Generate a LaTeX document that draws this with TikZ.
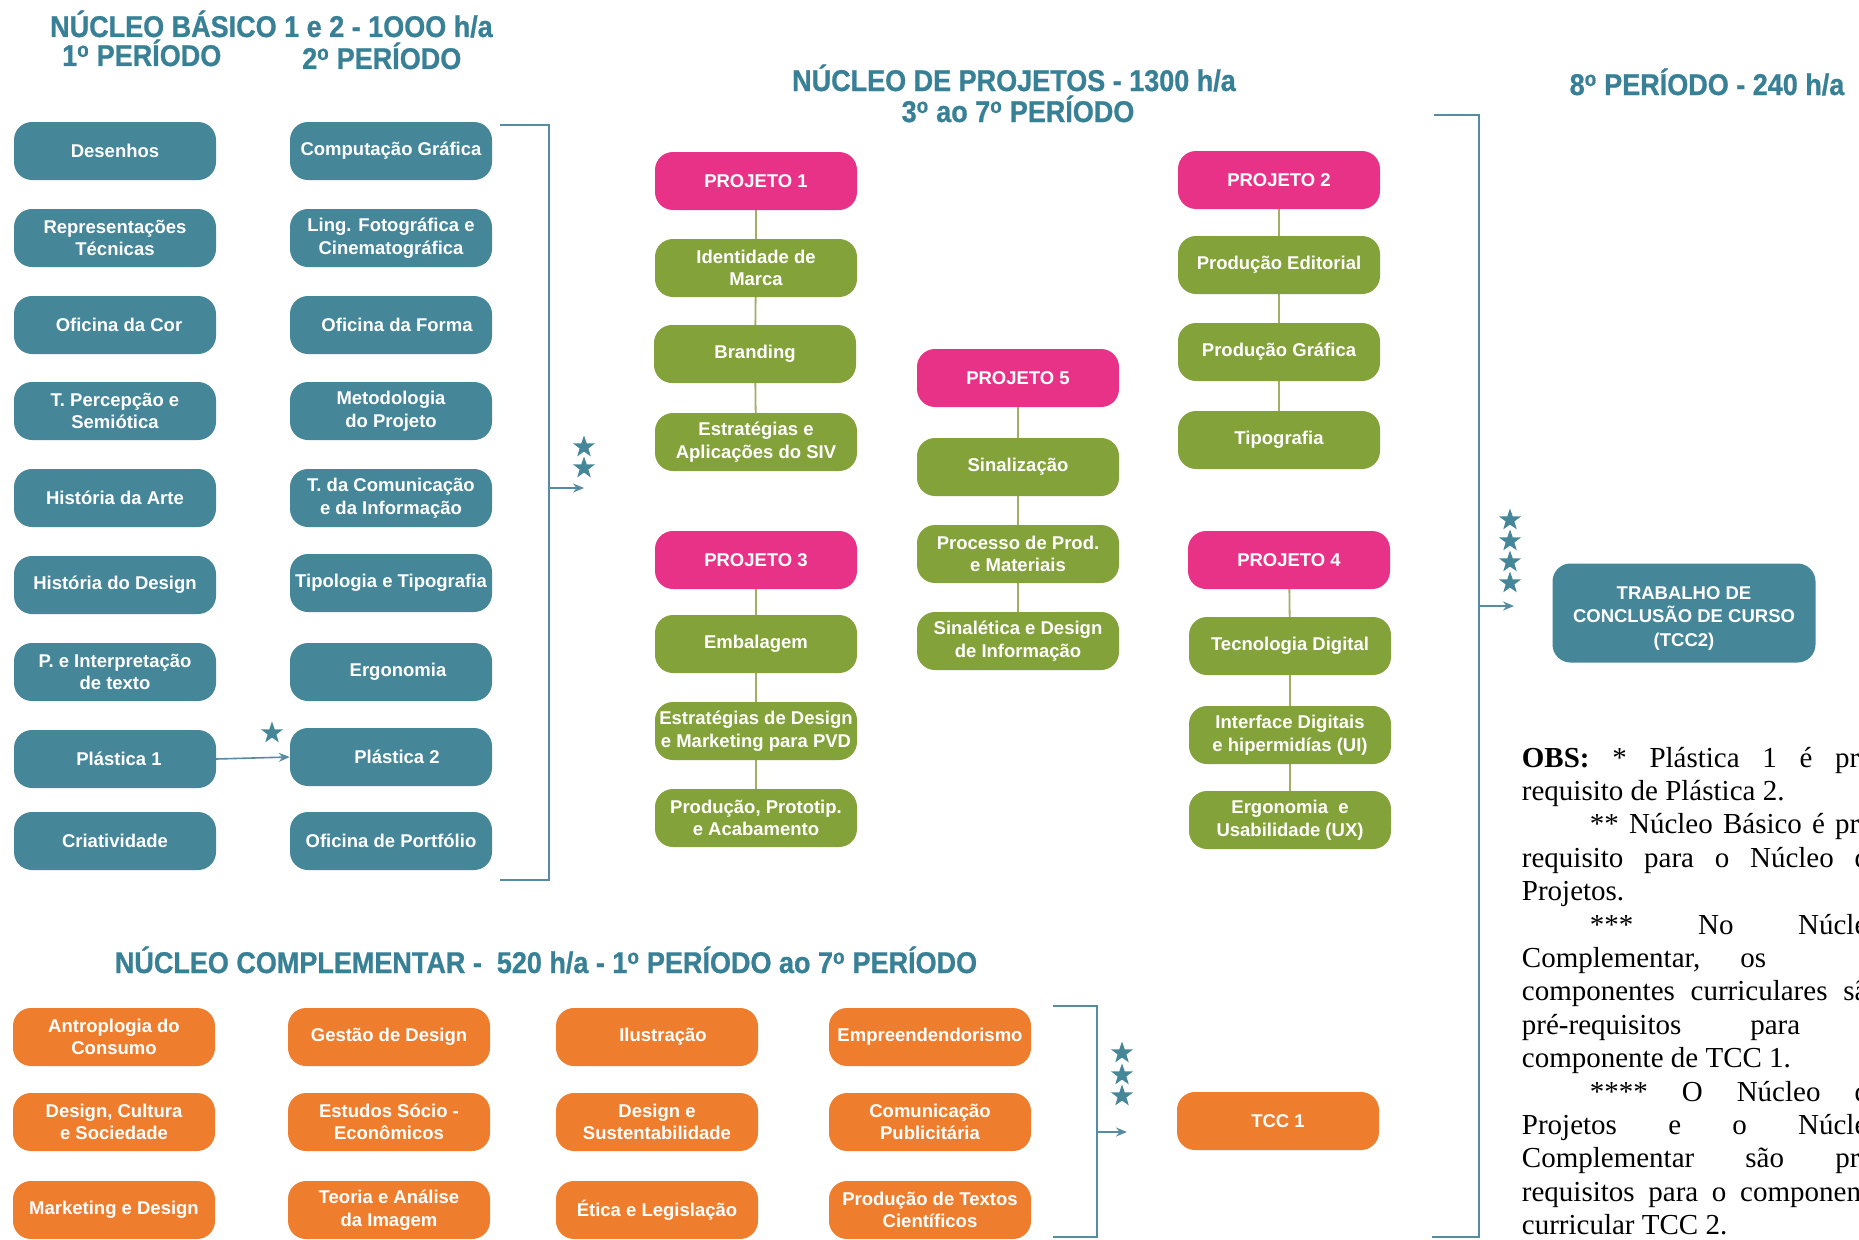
\documentclass[tikz,border=0pt]{standalone}
\usepackage{fontspec}
\setmainfont{Liberation Sans}
\newfontfamily\titlefont[FakeStretch=0.9,FakeBold=0.8]{Liberation Sans}
\newfontfamily\obsfont{Liberation Serif}
\usetikzlibrary{shapes.geometric,arrows.meta,backgrounds}
\definecolor{cteal}{RGB}{69,134,153}
\definecolor{ctitle}{RGB}{56,128,150}
\definecolor{cpink}{RGB}{232,50,135}
\definecolor{cgreen}{RGB}{132,162,58}
\definecolor{corange}{RGB}{238,125,45}
\definecolor{cline}{RGB}{85,140,162}
\definecolor{cgline}{RGB}{165,172,100}
\newcommand\ordo{\textsuperscript{o}}
\begin{document}
\begin{tikzpicture}[x=1pt,y=-1pt,
  box/.style={rounded corners=18pt, minimum width=202pt, minimum height=58pt,
    align=center, text=white, inner sep=0pt,
    font=\bfseries\fontsize{18.5}{22.5}\selectfont},
  tbox/.style={box, fill=cteal},
  pbox/.style={box, fill=cpink},
  gbox/.style={box, fill=cgreen},
  obox/.style={box, fill=corange},
  ttl/.style={text=ctitle, inner sep=0pt,
    font=\titlefont\bfseries\fontsize{30}{33}\selectfont},
  bline/.style={draw=cline, line width=1.6pt},
  arr/.style={bline, -{Stealth[length=11pt,width=9pt]}},
  gline/.style={draw=cgline, line width=1.8pt},
  sstar/.style={star, star points=5, star point ratio=2.5, fill=cteal,
    draw=none, minimum size=23pt, inner sep=0pt},
  obs/.style={inner sep=0pt, align=left, text=black,
    font=\obsfont\fontsize{29}{33.4}\selectfont}]
\useasboundingbox (0,0) rectangle (1859,1239);

% titles
\node[ttl, anchor=base west] (t1) at (50,37) {NÚCLEO BÁSICO 1 e 2 - 1OOO h/a};
\node[ttl, anchor=base west] (t1a) at (62,66) {1\ordo{} PERÍODO};
\node[ttl, anchor=base west] (t1b) at (302,69) {2\ordo{} PERÍODO};
\node[ttl, anchor=base] (t2) at (1014,91) {NÚCLEO DE PROJETOS - 1300 h/a};
\node[ttl, anchor=base] (t2a) at (1018,122) {3\ordo{} ao 7\ordo{} PERÍODO};
\node[ttl, anchor=base] (t3) at (1707,95) {8\ordo{} PERÍODO - 240 h/a};
\node[ttl, anchor=base] (t4) at (546,973) {NÚCLEO COMPLEMENTAR -\ \ 520 h/a - 1\ordo{} PERÍODO ao 7\ordo{} PERÍODO};

% basic core, column 1
\node[tbox] (a1) at (115,151) {Desenhos};
\node[tbox] (a2) at (115,238) {Representações\\Técnicas};
\node[tbox] (a3) at (115,325) {\hspace*{8pt}Oficina da Cor};
\node[tbox] (a4) at (115,411) {T. Percepção e\\Semiótica};
\node[tbox] (a5) at (115,498) {História da Arte};
\node[tbox] (a6) at (115,585) {História do Design};
\node[tbox] (a7) at (115,672) {P. e Interpretação\\de texto};
\node[tbox] (a8) at (115,759) {\hspace*{8pt}Plástica 1};
\node[tbox] (a9) at (115,841) {Criatividade};
% column 2
\node[tbox] (b1) at (391,151) {Computação Gráfica};
\node[tbox] (b2) at (391,238) {Ling. Fotográfica e\\Cinematográfica};
\node[tbox] (b3) at (391,325) {\hspace*{12pt}Oficina da Forma};
\node[tbox] (b4) at (391,411) {Metodologia\\do Projeto};
\node[tbox] (b5) at (391,498) {T. da Comunicação\\e da Informação};
\node[tbox] (b6) at (391,583) {Tipologia e Tipografia};
\node[tbox] (b7) at (391,672) {\hspace*{14pt}Ergonomia};
\node[tbox] (b8) at (391,757) {\hspace*{12pt}Plástica 2};
\node[tbox] (b9) at (391,841) {Oficina de Portfólio};

% projects
\node[pbox] (p1) at (756,181) {PROJETO 1};
\node[gbox] (p1a) at (756,268) {Identidade de\\Marca};
\node[gbox] (p1b) at (755,354) {Branding};
\node[gbox] (p1c) at (756,442) {Estratégias e\\Aplicações do SIV};
\node[pbox] (p3) at (756,560) {PROJETO 3};
\node[gbox] (p3a) at (756,644) {Embalagem};
\node[gbox] (p3b) at (756,731) {Estratégias de Design\\e Marketing para PVD};
\node[gbox] (p3c) at (756,818) {Produção, Prototip.\\e Acabamento};
\node[pbox] (p5) at (1018,378) {PROJETO 5};
\node[gbox] (p5a) at (1018,467) {Sinalização};
\node[gbox] (p5b) at (1018,554) {Processo de Prod.\\e Materiais};
\node[gbox] (p5c) at (1018,641) {Sinalética e Design\\de Informação};
\node[pbox] (p2) at (1279,180) {PROJETO 2};
\node[gbox] (p2a) at (1279,265) {Produção Editorial};
\node[gbox] (p2b) at (1279,352) {Produção Gráfica};
\node[gbox] (p2c) at (1279,440) {Tipografia};
\node[pbox] (p4) at (1289,560) {PROJETO 4};
\node[gbox] (p4a) at (1290,646) {Tecnologia Digital};
\node[gbox] (p4b) at (1290,735) {Interface Digitais\\e hipermidías (UI)};
\node[gbox] (p4c) at (1290,820) {Ergonomia\ \ e\\Usabilidade (UX)};

% TCC 2
\node[tbox, minimum width=263pt, minimum height=99pt] (tcc2) at (1684,613) {};
\node[align=center, text=white, inner sep=0pt,
  font=\bfseries\fontsize{18.5}{23.5}\selectfont] (tcc2t) at (1684,618)
  {TRABALHO DE\\CONCLUSÃO DE CURSO\\(TCC2)};

% complementary core
\node[obox] (c1) at (114,1037) {Antroplogia do\\Consumo};
\node[obox] (c2) at (114,1122) {Design, Cultura\\e Sociedade};
\node[obox] (c3) at (114,1210) {Marketing e Design};
\node[obox] (c4) at (389,1037) {Gestão de Design};
\node[obox] (c5) at (389,1122) {Estudos Sócio -\\Econômicos};
\node[obox] (c6) at (389,1210) {Teoria e Análise\\da Imagem};
\node[obox] (c7) at (657,1037) {\hspace*{12pt}Ilustração};
\node[obox] (c8) at (657,1122) {Design e\\Sustentabilidade};
\node[obox] (c9) at (657,1210) {Ética e Legislação};
\node[obox] (c10) at (930,1037) {Empreendendorismo};
\node[obox] (c11) at (930,1122) {Comunicação\\Publicitária};
\node[obox] (c12) at (930,1210) {Produção de Textos\\Científicos};
\node[obox] (tcc1) at (1278,1121) {TCC 1};

% stars
\node[sstar] (s0) at (272,733) {};
\node[sstar] (s1) at (584,447) {};
\node[sstar] (s2) at (584,468) {};
\node[sstar] (s3) at (1122,1053) {};
\node[sstar] (s4) at (1122,1075) {};
\node[sstar] (s5) at (1122,1096) {};
\node[sstar] (s6) at (1510,520) {};
\node[sstar] (s7) at (1510,541) {};
\node[sstar] (s8) at (1510,562) {};
\node[sstar] (s9) at (1510,583) {};

% bracket coordinates
\coordinate (ba) at (500,125);
\coordinate (bb) at (549,125);
\coordinate (bc) at (549,880);
\coordinate (bd) at (500,880);
\coordinate (bm) at (549,488);
\coordinate (be) at (584,488);
\coordinate (ra) at (1434,115);
\coordinate (rb) at (1479,115);
\coordinate (rc) at (1479,1237);
\coordinate (rd) at (1432,1237);
\coordinate (rm) at (1479,606);
\coordinate (re) at (1514,606);
\coordinate (ca) at (1053,1006);
\coordinate (cb) at (1097,1006);
\coordinate (cc) at (1097,1237);
\coordinate (cd) at (1053,1237);
\coordinate (cm) at (1097,1132);
\coordinate (ce) at (1127,1132);

\begin{scope}[on background layer]
\fill[white] (0,0) rectangle (1859,1239);
\draw[gline] (p1) -- (p1a) -- (p1b) -- (p1c);
\draw[gline] (p3) -- (p3a) -- (p3b) -- (p3c);
\draw[gline] (p5) -- (p5a) -- (p5b) -- (p5c);
\draw[gline] (p2) -- (p2a) -- (p2b) -- (p2c);
\draw[gline] (p4) -- (p4a) -- (p4b) -- (p4c);
\end{scope}

\draw[bline] (ba) -- (bb) -- (bc) -- (bd);
\draw[arr] (bm) -- (be);
\draw[bline] (ra) -- (rb) -- (rc) -- (rd);
\draw[arr] (rm) -- (re);
\draw[bline] (ca) -- (cb) -- (cc) -- (cd);
\draw[arr] (cm) -- (ce);
\draw[arr] (a8.east) -- (b8.west);

% notes
\node[obs, anchor=north west] (obs) at (1521.7,743.6) {\frenchspacing
\strut\makebox[360pt][s]{\textbf{OBS:} * Plástica 1 é pré-}\\
\makebox[360pt][l]{requisito de Plástica 2.}\\
\makebox[360pt][s]{\hspace*{68pt}** Núcleo Básico é pré-}\\
\makebox[360pt][s]{requisito para o Núcleo de}\\
\makebox[360pt][l]{Projetos.}\\
\makebox[360pt][s]{\hspace*{68pt}*** No Núcleo}\\
\makebox[360pt][l]{Complementar,\hspace{40pt}os}\\
\makebox[360pt][s]{componentes curriculares são}\\
\makebox[360pt][s]{pré-requisitos para a}\\
\makebox[360pt][l]{componente de TCC 1.}\\
\makebox[360pt][s]{\hspace*{68pt}**** O Núcleo de}\\
\makebox[360pt][s]{Projetos e o Núcleo}\\
\makebox[360pt][s]{Complementar são pré-}\\
\makebox[360pt][s]{requisitos para o componente}\\
\makebox[360pt][l]{curricular TCC 2.}};
\end{tikzpicture}
\end{document}
